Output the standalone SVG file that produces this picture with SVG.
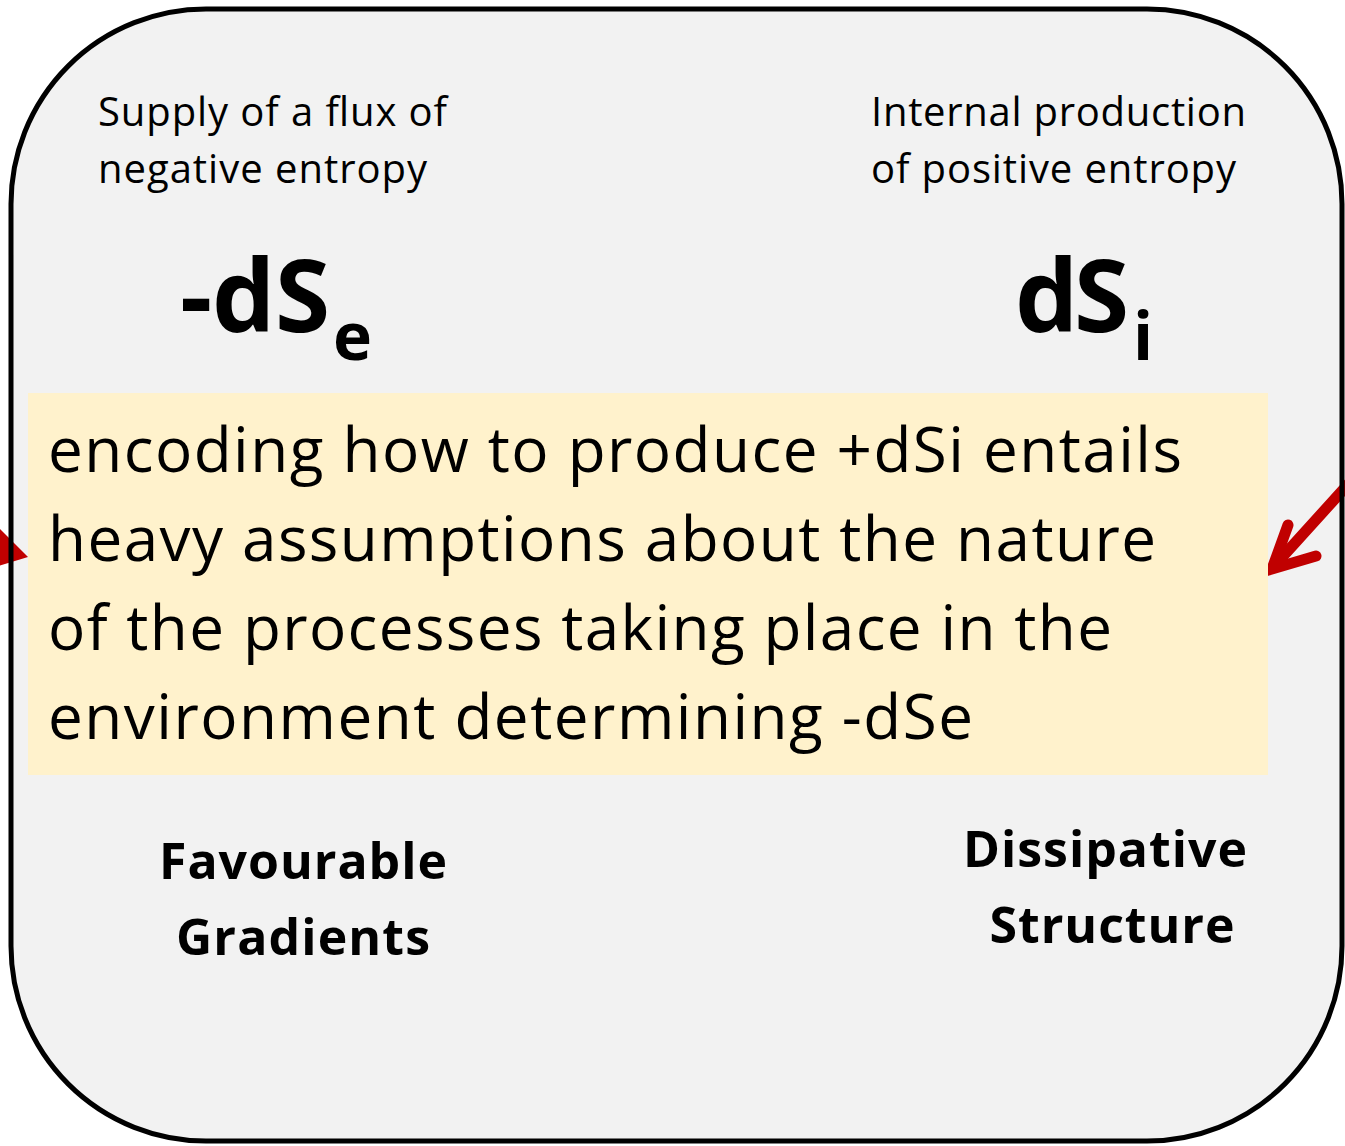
<svg xmlns="http://www.w3.org/2000/svg" width="1345" height="1146" viewBox="0 0 1345 1146">
<defs>
<style>
.t{font-family:"Open Sans","Noto Sans","Liberation Sans",sans-serif;fill:#000}
.sm{font-size:40px}
.big{font-size:62px}
.lab{font-size:50px;font-weight:bold}
.sym{font-size:100px;font-weight:bold}
.sub{font-size:66px;font-weight:bold}
.red{fill:none;stroke:#C00000;stroke-width:11;stroke-linecap:round;stroke-linejoin:miter}
</style>
</defs>
<g id="system">
<rect x="11" y="9" width="1331" height="1132" rx="195" ry="195" fill="#F2F2F2"/>
</g>
<g id="connectors">
<polygon points="-2,527 28,557 -2,566" fill="#C00000"/>
<line class="red" x1="1352" y1="480" x2="1275" y2="565"/>
<polyline class="red" points="1288,525 1272,569 1316,556"/>
</g>
<g id="system-border">
<rect x="11" y="9" width="1331" height="1132" rx="195" ry="195" fill="none" stroke="#000" stroke-width="5"/>
</g>
<g id="note">
<rect x="28" y="393" width="1240" height="382" fill="#FFF2CC"/>
<text class="t big" x="48" y="472" textLength="1134">encoding how to produce +dSi entails</text>
<text class="t big" x="48" y="561" textLength="1108">heavy assumptions about the nature</text>
<text class="t big" x="48" y="650" textLength="1064">of the processes taking place in the</text>
<text class="t big" x="48" y="739" textLength="925">environment determining -dSe</text>
</g>
<g id="left-labels">
<text class="t sm" x="98" y="126" textLength="349">Supply of a flux of</text>
<text class="t sm" x="98" y="183" textLength="329">negative entropy</text>
<text class="t sym" x="180" y="332"><tspan textLength="150">-dS</tspan><tspan class="sub" x="333" y="360">e</tspan></text>
<text class="t lab" x="303" y="879" text-anchor="middle" textLength="288">Favourable</text>
<text class="t lab" x="303" y="955" text-anchor="middle" textLength="254">Gradients</text>
</g>
<g id="right-labels">
<text class="t sm" x="871" y="126" textLength="375">Internal production</text>
<text class="t sm" x="871" y="183" textLength="365">of positive entropy</text>
<text class="t sym" x="1015" y="332"><tspan textLength="114">dS</tspan><tspan class="sub" x="1133" y="360">i</tspan></text>
<text class="t lab" x="1105" y="867" text-anchor="middle" textLength="284">Dissipative</text>
<text class="t lab" x="1112" y="943" text-anchor="middle" textLength="245">Structure</text>
</g>
</svg>
